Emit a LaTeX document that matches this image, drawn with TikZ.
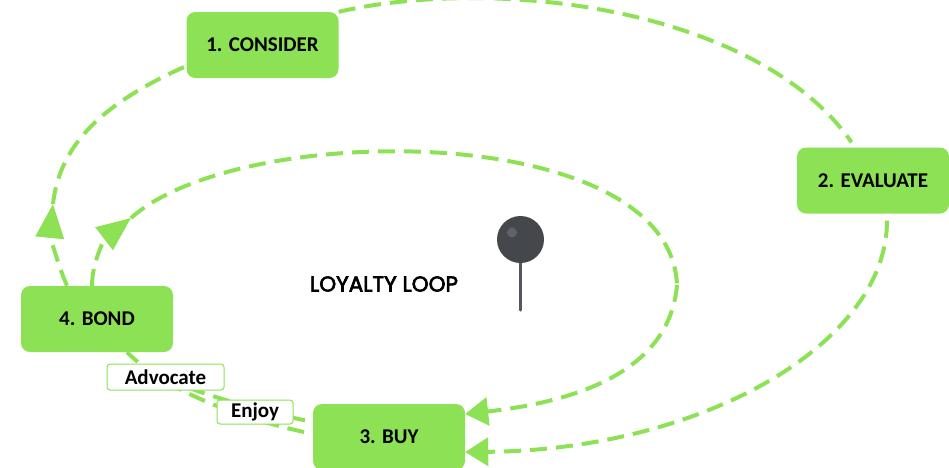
\documentclass[tikz,border=0pt]{standalone}
\usepackage{fontspec}
\setmainfont{Carlito}
\newfontfamily\titlefont[FakeBold=3]{Poppins}
\usetikzlibrary{arrows.meta,backgrounds}
\definecolor{loopgreen}{HTML}{8CE254}
\definecolor{pindark}{HTML}{44474B}
\definecolor{pinlight}{HTML}{5F626B}
\definecolor{pinstem}{HTML}{55575E}
\tikzset{
  stage/.style={fill=loopgreen,rounded corners=9pt,minimum width=152pt,minimum height=66pt,inner sep=0pt,font=\fontsize{21}{22}\selectfont\bfseries,text=black},
  tag/.style={draw=loopgreen,line width=1pt,fill=white,rounded corners=3pt,inner sep=0pt,font=\fontsize{21}{22}\selectfont\bfseries,text=black},
  flow/.style={draw=loopgreen,line width=4pt,dash pattern=on 17pt off 9pt},
  headed/.style={flow,-{Triangle[length=34pt,width=28pt,fill=loopgreen]}},
  headedshort/.style={flow,-{Triangle[length=23pt,width=28pt,fill=loopgreen]}},
}
\begin{document}
\begin{tikzpicture}[x=1pt,y=-1pt]
\useasboundingbox (0,0) rectangle (949,467);
\clip (0,0) rectangle (949,467);
\node[stage] (consider) at (262.5,45) {1. CONSIDER};
\node[stage] (evaluate) at (873,180.5) {2. EVALUATE};
\node[stage] (bond) at (97,319) {4. BOND};
\node[stage] (buy) at (389,437) {3. BUY};
\node[tag,minimum width=117pt,minimum height=26pt] (advocate) at (165.5,377) {Advocate};
\node[tag,minimum width=76pt,minimum height=24pt] (enjoy) at (255,412) {Enjoy};
\coordinate (tipA) at (53,204);
\coordinate (tipB) at (131,218);
\coordinate (turn) at (677,285);
\begin{scope}[on background layer]
% outer loop
\path[flow,shorten >=6pt] (consider.north east) .. controls (500,-25) and (760,10) .. ([xshift=-18pt]evaluate.north);
\path[headedshort] ([xshift=14pt,yshift=-7pt]evaluate.south) .. controls (887,345) and (700,450) .. ([yshift=-15pt]buy.east);
\path[flow] (tipA) .. controls (60,140) and (110,100) .. ([yshift=-21pt]consider.west);
\path[headed] ([xshift=-30pt]bond.north) .. controls (58,265) and (50,235) .. (tipA);
% inner loop
\path[headed] ([xshift=-5pt]bond.north) .. controls (92,262) and (105,238) .. (tipB);
\path[flow] (tipB) .. controls (240,120) and (670,120) .. (turn);
\path[headedshort] (turn) .. controls (670,365) and (590,400) .. ([yshift=23pt]buy.east);
% buy to bond, behind the labels
\path[flow,shorten <=9pt] ([yshift=3pt]buy.west) .. controls (250,420) and (170,395) .. ([xshift=30pt]bond.south);
\path[flow,shorten <=8pt] ([yshift=15pt]buy.west) .. controls (265,412) and (190,392) .. (advocate.center);
\end{scope}
\node[font=\titlefont\fontsize{21.5}{24}\selectfont,text=black,inner sep=0pt] (title) at (384,284) {LOYALTY LOOP};
% pin
\draw[pinstem,line width=3pt,line cap=round] (520.5,255) -- (520.5,310);
\fill[pindark] (520.5,239.5) circle (23.5pt);
\fill[pinlight] (512,232.5) circle (5pt);
\end{tikzpicture}
\end{document}
